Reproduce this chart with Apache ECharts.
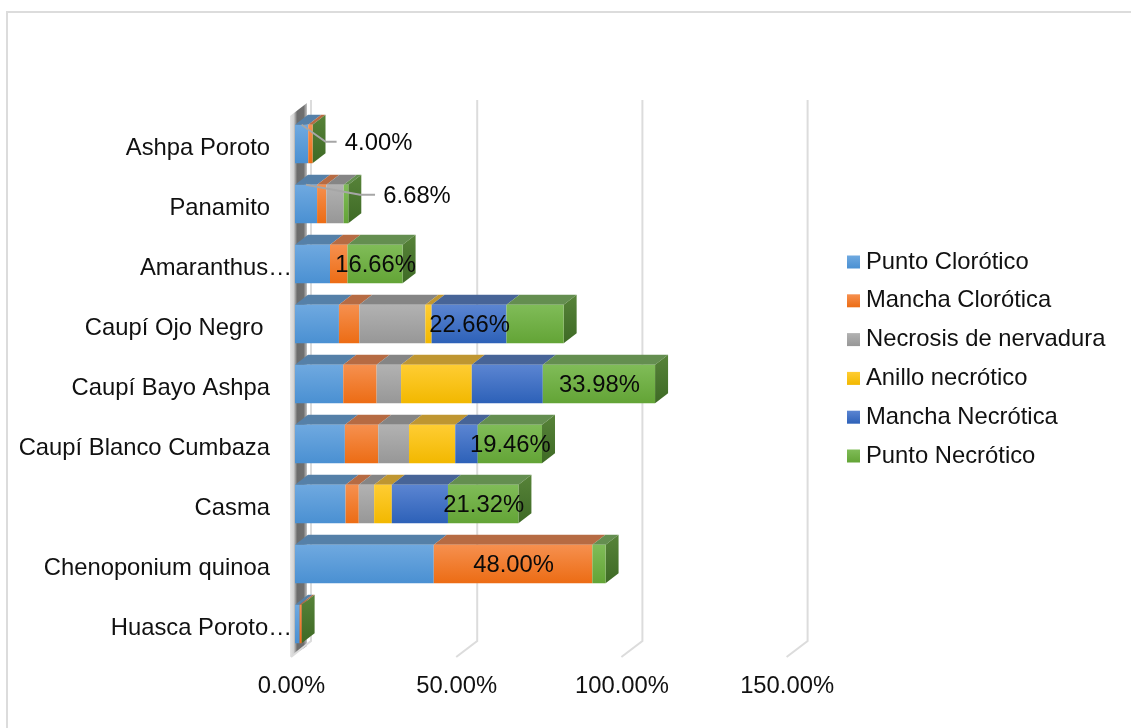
<!DOCTYPE html>
<html><head><meta charset="utf-8">
<style>html,body{margin:0;padding:0;background:#fff}#c{width:1131px;height:728px}</style>
<script src="https://cdn.jsdelivr.net/npm/echarts@6/dist/echarts.min.js"></script>
</head><body><div id="c"></div>
<script>
const categories = ['Ashpa Poroto','Panamito','Amaranthus…','Caupí Ojo Negro\u00a0','Caupí Bayo Ashpa','Caupí Blanco Cumbaza','Casma','Chenoponium quinoa','Huasca Poroto…'];
const seriesNames = ['Punto Clorótico','Mancha Clorótica','Necrosis de nervadura','Anillo necrótico','Mancha Necrótica','Punto Necrótico'];
const puntoClorotico   = [4.00, 6.68, 10.6, 13.3, 14.6, 15.1, 15.3, 42.0, 1.4];
const manchaClorotica  = [1.3, 2.8, 5.3, 6.15, 10.1, 10.1, 4.0, 48.00, 0.6];
const necrosisNervadura= [0, 5.25, 0, 20.0, 7.4, 9.3, 4.65, 0, 0];
const anilloNecrotico  = [0, 0, 0, 1.9, 21.4, 14.0, 5.35, 0, 0];
const manchaNecrotica  = [0, 0, 0, 22.66, 21.5, 6.8, 17.0, 0, 0];
const puntoNecrotico   = [0, 1.4, 16.66, 17.3, 33.98, 19.46, 21.32, 4.0, 0];
const seriesValues = [puntoClorotico, manchaClorotica, necrosisNervadura, anilloNecrotico, manchaNecrotica, puntoNecrotico];
// which categories carry a data label, per series
const labelled = [[], [7], [], [], [3], [2,4,5,6]];
const calloutCats = [0, 1];   // categories of Punto Clorótico with a leader-line label
const xTicks = [0, 50, 100, 150];

const FONT = '"Liberation Sans", Arial, sans-serif';
const FS = 23.8;
const BAR_H = 38.5;
const DEPTH = {dx: 13, dy: -10};
const frontGrad = [['#6fa9e0','#4a90d2'],['#f6904f','#ec6c14'],['#b2b2b2','#979797'],['#ffcd33','#f2b800'],['#5b85d2','#2d61b8'],['#80bc58','#63a436']];
const topCol = ['#5580a8','#b66b43','#858585','#bf9631','#476497','#648e50'];
const grad = c => new echarts.graphic.LinearGradient(0,0,0,1,[{offset:0,color:c[0]},{offset:1,color:c[1]}]);
const sideFill = () => grad(['#578339','#3e6a25']);

// depth faces, derived from the series
const depthRows = [];
categories.forEach((_, ci) => {
  let acc = 0;
  seriesValues.forEach((vals, si) => {
    if (vals[ci] > 0) depthRows.push([acc, acc + vals[ci], ci, si]);
    acc += vals[ci];
  });
});
const totals = categories.map((_, ci) => seriesValues.reduce((a, v) => a + v[ci], 0));

const poly = (pts, fill) => ({type:'polygon', shape:{points:pts}, style:{fill}});

const barSeries = seriesNames.map((name, si) => ({
  name, type:'bar', stack:'t', barWidth:BAR_H, z:3,
  itemStyle:{color:grad(frontGrad[si])},
  data: seriesValues[si].map((v, ci) => ({
    value: v || null,
    label:{show: labelled[si].includes(ci), position:'inside', offset:[0.5,1], formatter: p => p.value.toFixed(2)+'%',
           color:'#0a0a0a', fontFamily:FONT, fontSize:FS}
  }))
}));

const option = {
  animation:false,
  backgroundColor:'#fff',
  graphic:[{type:'rect', silent:true, z:-1, shape:{x:7,y:12,width:1300,height:900}, style:{fill:'none',stroke:'#dcdcdc',lineWidth:2}}],
  grid:{left:295, top:114, width:495.6, height:540, containLabel:false},
  legend:{
    left:842, top:245, orient:'vertical', selectedMode:false, data:seriesNames,
    icon:'rect', itemWidth:13, itemHeight:13, itemGap:14.8,
    textStyle:{fontFamily:FONT, fontSize:FS, color:'#111', padding:[0,0,0,1], lineHeight:24}
  },
  xAxis:{type:'value', min:0, max:150, interval:50,
    axisLine:{show:false}, axisTick:{show:false}, splitLine:{show:false},
    axisLabel:{formatter:v=>v.toFixed(2)+'%', fontFamily:FONT, fontSize:FS, color:'#111', margin:20, padding:[0,7,0,0], customValues:xTicks}},
  yAxis:{type:'category', inverse:true, data:categories,
    axisLine:{show:false}, axisTick:{show:false}, splitLine:{show:false},
    axisLabel:{margin:3, interval:0, fontFamily:FONT, fontSize:FS, color:'#111',
      formatter:(v)=> v.endsWith('…') ? '{t|'+v+'}' : '{n|'+v+'}',
      rich:{
        t:{fontFamily:FONT,fontSize:FS,color:'#111',padding:[9,0,0,0]},
        n:{fontFamily:FONT,fontSize:FS,color:'#111',padding:[9,22,0,0]}
      }}},
  series:[
    { // back wall, floor lines and gridlines
      type:'custom', z:1, silent:true, clip:false,
      data:xTicks.map(t=>[t]), encode:{x:0},
      renderItem:(params, api)=>{
        const cs = params.coordSys;
        const x = api.coord([api.value(0), 0])[0];
        const fx = x-4, bx = x+17;
        const yT = cs.y-14, yB = cs.y+cs.height-13;
        const line = (pts)=>({type:'polyline', shape:{points:pts}, style:{fill:'none',stroke:'#dcdcdc',lineWidth:2}});
        const kids = [];
        if (api.value(0) === 0) {
          const wx = fx-1;
          kids.push(poly([[wx,yT+16],[wx+17,yT+3],[wx+17,yB+5],[wx,yB+16]],
            new echarts.graphic.LinearGradient(0,0,1,0,[
              {offset:0,color:'#e6e6e6'},{offset:0.22,color:'#d2d2d2'},{offset:0.42,color:'#6c6c6c'},
              {offset:0.8,color:'#707070'},{offset:1,color:'#c4c4c4'}])));
          kids.push(line([[bx-1,yT],[bx-1,yB],[wx+1,yB+16]]));
        } else {
          kids.push(line([[bx,yT],[bx,yB],[fx,yB+16]]));
        }
        return {type:'group', children:kids};
      }
    },
    { // top and side faces of the bars
      type:'custom', z:2, silent:true, clip:false,
      data:depthRows, encode:{x:[0,1], y:2},
      renderItem:(params, api)=>{
        const ci = api.value(2), si = api.value(3);
        const a = api.coord([api.value(0), ci]), b = api.coord([api.value(1), ci]);
        const yt = a[1]-BAR_H/2, yb = a[1]+BAR_H/2;
        const d = DEPTH;
        const kids = [poly([[a[0],yt],[b[0],yt],[b[0]+d.dx,yt+d.dy],[a[0]+d.dx,yt+d.dy]], topCol[si])];
        if (Math.abs(api.value(1)-totals[ci])<1e-6) {
          kids.push(poly([[b[0],yt],[b[0]+d.dx,yt+d.dy],[b[0]+d.dx,yb+d.dy],[b[0],yb]], sideFill()));
        }
        return {type:'group', children:kids};
      }
    },
    ...barSeries,
    { // leader-line labels
      type:'custom', z:6, silent:true, clip:false,
      data:calloutCats.map(ci=>[puntoClorotico[ci], ci]), encode:{x:0,y:1},
      renderItem:(params, api)=>{
        const v = api.value(0), ci = api.value(1);
        const p = api.coord([v, ci]);
        const sx = api.coord([v/2, ci])[0], yt = p[1]-BAR_H/2;
        const o = ci===0 ? {mx:24, my:17, ex:35, tx:77} : {mx:54, my:10, ex:69, tx:111};
        const my = yt+o.my;
        return {type:'group', children:[
          {type:'polyline', shape:{points:[[sx,yt],[sx+o.mx,my],[sx+o.ex,my]]}, style:{fill:'none',stroke:'#a6a6a6',lineWidth:2}},
          {type:'text', style:{text:v.toFixed(2)+'%', x:sx+o.tx, y:my+2, fill:'#0a0a0a', font:FS+'px '+FONT, align:'center', verticalAlign:'middle'}}
        ]};
      }
    }
  ]
};
const chart = echarts.init(document.getElementById('c'), null, {renderer:'canvas'});
chart.setOption(option);
</script></body></html>
